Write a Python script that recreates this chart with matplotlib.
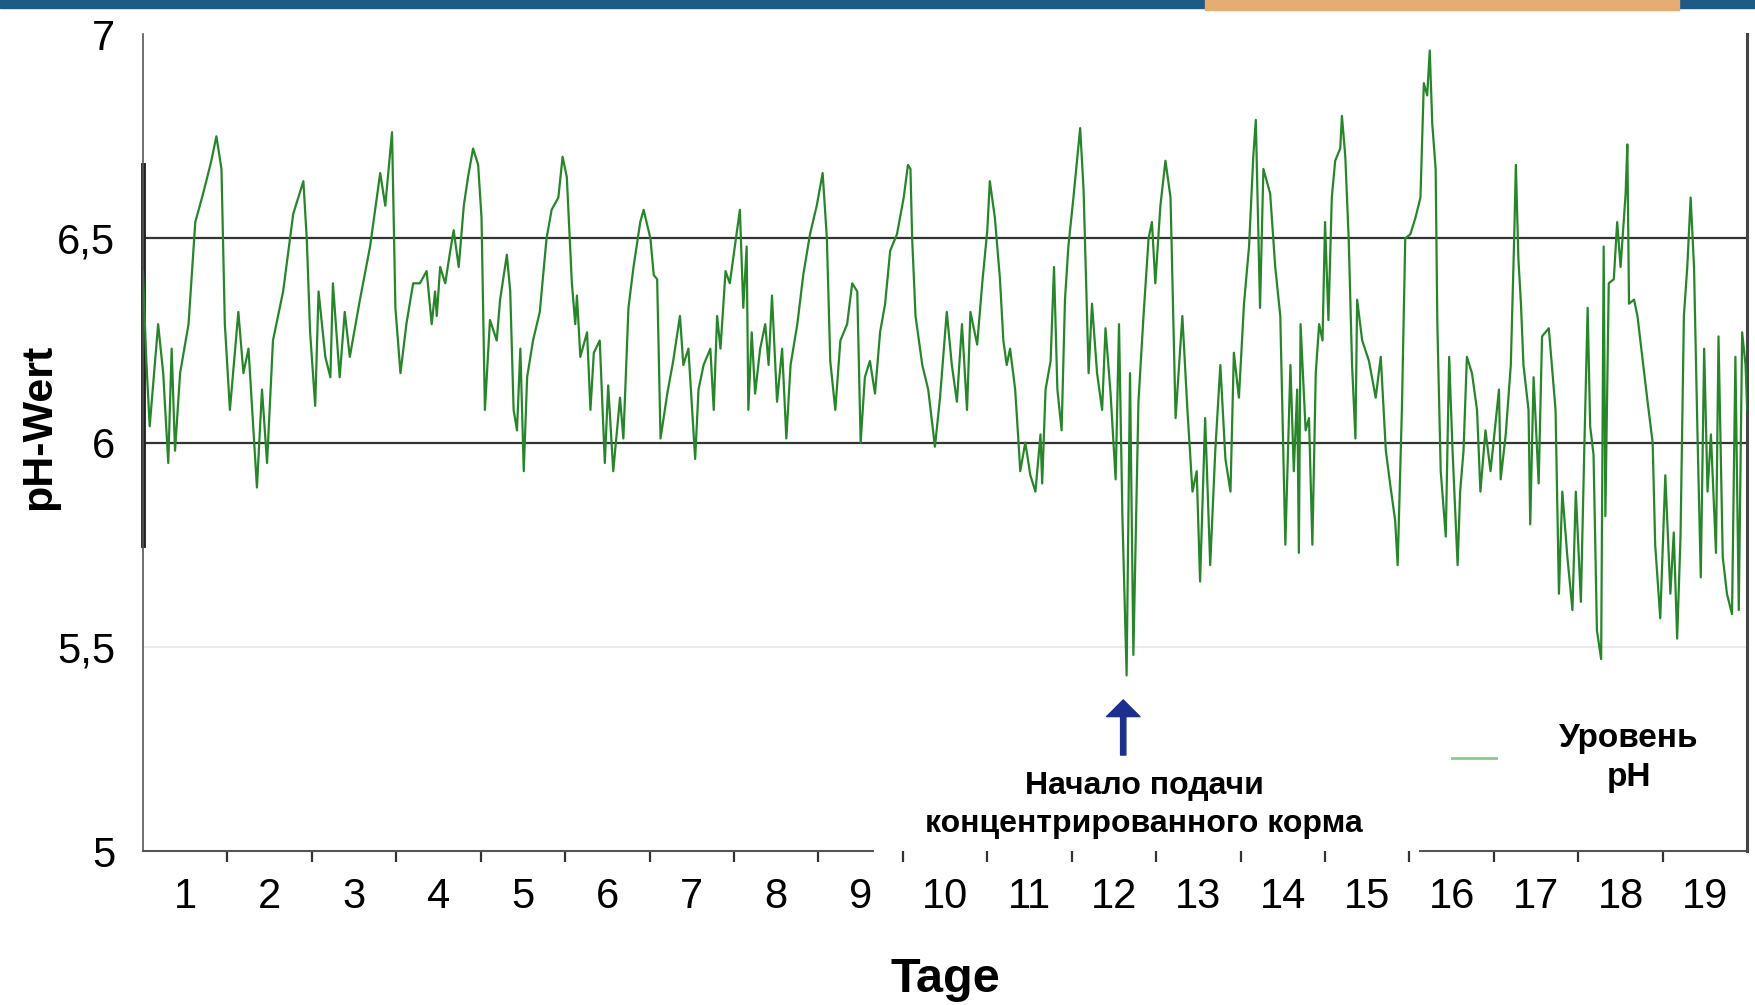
import matplotlib.pyplot as plt
from matplotlib.patches import Rectangle

plt.rcParams['font.family'] = ['Liberation Sans', 'DejaVu Sans']

# pH readings, x in days since start
days = [0.00, 0.04, 0.08, 0.18, 0.24, 0.30, 0.34, 0.38, 0.44, 0.54, 0.62, 0.70, 0.75, 0.81, 0.87, 0.93,
        0.97, 1.03, 1.13, 1.19, 1.25, 1.35, 1.41, 1.47, 1.54, 1.66, 1.78, 1.90, 1.94, 1.98, 2.04, 2.08,
        2.16, 2.22, 2.25, 2.33, 2.39, 2.45, 2.57, 2.69, 2.81, 2.87, 2.95, 2.99, 3.05, 3.12, 3.20,
        3.28, 3.36, 3.42, 3.46, 3.48, 3.52, 3.58, 3.64, 3.68, 3.74, 3.80, 3.85, 3.91, 3.97, 4.01, 4.05,
        4.11, 4.19, 4.23, 4.31, 4.35, 4.39, 4.43, 4.47, 4.51, 4.55, 4.62, 4.70, 4.78, 4.84, 4.92, 4.97,
        5.02, 5.08, 5.12, 5.14, 5.18, 5.26, 5.30, 5.34, 5.41, 5.47, 5.51, 5.57, 5.65, 5.69, 5.75, 5.81,
        5.89, 5.93, 6.01, 6.05, 6.09, 6.13, 6.21, 6.28, 6.36, 6.40, 6.46, 6.54, 6.58, 6.64,
        6.72, 6.76, 6.80, 6.84, 6.90, 6.95, 7.01, 7.07, 7.11, 7.15, 7.17, 7.21, 7.25, 7.31, 7.37, 7.41,
        7.45, 7.51, 7.57, 7.62, 7.67, 7.75, 7.82, 7.90, 7.98, 8.05, 8.10, 8.14, 8.20, 8.26, 8.34, 8.40,
        8.46, 8.50, 8.55, 8.61, 8.67, 8.73, 8.79, 8.85, 8.93, 9.01, 9.06, 9.09, 9.11, 9.15, 9.23, 9.30,
        9.38, 9.44, 9.52, 9.58, 9.64, 9.70, 9.76, 9.80, 9.88, 9.94, 10.00, 10.03, 10.09,
        10.15, 10.19, 10.23, 10.27, 10.33, 10.37, 10.39, 10.45, 10.51, 10.57, 10.63, 10.65, 10.69, 10.75,
        10.79, 10.83, 10.88, 10.92, 10.96, 11.02, 11.10, 11.14, 11.20, 11.24, 11.30, 11.36, 11.40, 11.46,
        11.52, 11.56, 11.60, 11.65, 11.69, 11.73, 11.79, 11.85, 11.91, 11.95, 11.99, 12.05, 12.11, 12.17,
        12.23, 12.31, 12.37, 12.43, 12.48, 12.52, 12.58, 12.64, 12.70, 12.76, 12.82, 12.88, 12.92, 12.98,
        13.04, 13.10, 13.15, 13.18, 13.23, 13.27, 13.35, 13.41, 13.47, 13.53,
        13.59, 13.63, 13.67, 13.69, 13.71, 13.77, 13.81, 13.85, 13.89, 13.93, 13.97, 14.00, 14.04, 14.08,
        14.12, 14.18, 14.20, 14.24, 14.28, 14.32, 14.36, 14.38, 14.44, 14.52, 14.60, 14.66, 14.72, 14.77,
        14.83, 14.86, 14.91, 14.95, 15.01, 15.07, 15.13, 15.17, 15.21, 15.24, 15.27, 15.31, 15.33, 15.37,
        15.43, 15.47, 15.51, 15.57, 15.60, 15.64, 15.68, 15.74, 15.80, 15.84, 15.90, 15.96, 16.02, 16.06,
        16.08, 16.14, 16.20, 16.24, 16.26, 16.29, 16.32, 16.35, 16.41, 16.43, 16.47, 16.53, 16.57, 16.65,
        16.71, 16.73, 16.77, 16.81, 16.87, 16.93, 16.97, 17.03, 17.07, 17.11, 17.14, 17.18, 17.22, 17.27,
        17.30, 17.32, 17.36, 17.42, 17.46, 17.50, 17.56, 17.58, 17.60, 17.66, 17.70, 17.78, 17.82, 17.88,
        17.91, 17.97, 18.03, 18.09, 18.13, 18.17, 18.21, 18.25, 18.29, 18.33, 18.37, 18.41, 18.45, 18.49,
        18.53, 18.57, 18.63, 18.66, 18.71, 18.76, 18.82, 18.86, 18.90, 18.94, 18.98, 19.00]
ph = [6.42, 6.20, 6.04, 6.29, 6.17, 5.95, 6.23, 5.98, 6.17, 6.29, 6.54, 6.60, 6.64, 6.69, 6.75, 6.67,
      6.29, 6.08, 6.32, 6.17, 6.23, 5.89, 6.13, 5.95, 6.25, 6.37, 6.56, 6.64, 6.50, 6.27, 6.09, 6.37,
      6.21, 6.16, 6.39, 6.16, 6.32, 6.21, 6.35, 6.48, 6.66, 6.58, 6.76, 6.33, 6.17, 6.29, 6.39,
      6.39, 6.42, 6.29, 6.37, 6.31, 6.43, 6.39, 6.47, 6.52, 6.43, 6.58, 6.65, 6.72, 6.68, 6.55, 6.08,
      6.30, 6.25, 6.35, 6.46, 6.37, 6.08, 6.03, 6.23, 5.93, 6.16, 6.25, 6.32, 6.50, 6.57, 6.60, 6.70,
      6.65, 6.39, 6.29, 6.36, 6.21, 6.27, 6.08, 6.22, 6.25, 5.95, 6.14, 5.93, 6.11, 6.01, 6.33, 6.43,
      6.54, 6.57, 6.50, 6.41, 6.40, 6.01, 6.12, 6.20, 6.31, 6.19, 6.23, 5.96, 6.13, 6.19,
      6.23, 6.08, 6.31, 6.23, 6.42, 6.39, 6.48, 6.57, 6.33, 6.48, 6.08, 6.27, 6.12, 6.23, 6.29, 6.19,
      6.36, 6.10, 6.23, 6.01, 6.19, 6.29, 6.41, 6.51, 6.58, 6.66, 6.50, 6.20, 6.08, 6.25, 6.29, 6.39,
      6.37, 6.00, 6.16, 6.20, 6.12, 6.27, 6.34, 6.47, 6.51, 6.60, 6.68, 6.67, 6.50, 6.31, 6.19, 6.13,
      5.99, 6.11, 6.32, 6.19, 6.10, 6.29, 6.08, 6.32, 6.24, 6.39, 6.52, 6.64, 6.55,
      6.40, 6.25, 6.19, 6.23, 6.13, 6.00, 5.93, 6.00, 5.92, 5.88, 6.02, 5.90, 6.13, 6.20,
      6.43, 6.13, 6.03, 6.35, 6.48, 6.60, 6.77, 6.62, 6.17, 6.34, 6.17, 6.08, 6.28, 6.12,
      5.91, 6.29, 5.82, 5.43, 6.17, 5.48, 6.10, 6.31, 6.50, 6.54, 6.39, 6.58, 6.69, 6.60,
      6.06, 6.31, 6.08, 5.88, 5.93, 5.66, 6.06, 5.70, 5.98, 6.19, 5.96, 5.88, 6.22, 6.11,
      6.34, 6.48, 6.70, 6.79, 6.33, 6.67, 6.61, 6.43, 6.31, 5.75,
      6.19, 5.93, 6.13, 5.73, 6.29, 6.03, 6.06, 5.75, 6.17, 6.29, 6.25, 6.54, 6.30, 6.60,
      6.69, 6.72, 6.80, 6.70, 6.50, 6.19, 6.01, 6.35, 6.25, 6.20, 6.11, 6.21, 5.98, 5.90,
      5.81, 5.70, 6.08, 6.50, 6.51, 6.55, 6.60, 6.88, 6.85, 6.96, 6.78, 6.67, 6.29, 5.93,
      5.77, 6.21, 5.98, 5.70, 5.88, 5.98, 6.21, 6.17, 6.08, 5.88, 6.03, 5.93, 6.05, 6.13,
      5.91, 6.02, 6.19, 6.50, 6.68, 6.45, 6.34, 6.19, 6.08, 5.80, 6.16, 5.90, 6.26, 6.28,
      6.13, 6.08, 5.63, 5.88, 5.72, 5.59, 5.88, 5.61, 5.98, 6.33, 6.04, 5.97, 5.54, 5.47,
      6.48, 5.82, 6.39, 6.40, 6.54, 6.43, 6.61, 6.73, 6.34, 6.35, 6.31, 6.17, 6.10, 6.00,
      5.75, 5.57, 5.92, 5.63, 5.78, 5.52, 5.77, 6.31, 6.43, 6.60, 6.43, 6.03, 5.67, 6.23,
      5.88, 6.02, 5.73, 6.26, 5.72, 5.63, 5.58, 6.21, 5.59, 6.27, 6.19, 6.08]

day_labels = [str(d) for d in range(1, 20)]
y_ticks = [5, 5.5, 6, 6.5, 7]
y_labels = ['5', '5,5', '6', '6,5', '7']

fig = plt.figure(figsize=(17.56, 10.05), dpi=100)
ax = fig.add_axes([0.0814, 0.1532, 0.9136, 0.8128])

# slide header strip
fig.patches.append(Rectangle((0, 0.992), 1, 0.008, transform=fig.transFigure, color='#1d5a86'))
fig.patches.append(Rectangle((0.686, 0.990), 0.27, 0.010, transform=fig.transFigure, color='#e6ad72'))

ax.axhline(6.5, color='#333333', lw=1.6, zorder=1)
ax.axhline(6.0, color='#333333', lw=1.6, zorder=1)
ax.axhline(5.5, color='#e6e6e6', lw=1.2, zorder=1)

ax.plot(days, ph, color='#27862a', lw=1.6, label='Уровень\npH', zorder=3)

ax.set_xlim(0, 19)
ax.set_ylim(5, 7)

ax.spines['top'].set_visible(False)
ax.spines['bottom'].set_visible(False)
ax.spines['left'].set_color('#555555')
ax.spines['left'].set_linewidth(1.2)
ax.spines['right'].set_color('#444444')
ax.spines['right'].set_linewidth(2.2)
ax.axvline(0, 0.375, 0.84, color='#222222', lw=3.5, clip_on=False)
# x axis line is interrupted behind the annotation
ax.axhline(5, 0, 0.455, color='#555555', lw=1.5, clip_on=False)
ax.axhline(5, 0.796, 1, color='#555555', lw=1.5, clip_on=False)

ax.set_xticks([d + 0.5 for d in range(19)])
ax.set_xticklabels(day_labels, fontsize=30)
ax.set_xticks(list(range(1, 19)), minor=True)
ax.tick_params(axis='x', which='major', length=0, pad=19)
ax.tick_params(axis='x', which='minor', length=8, width=1.6, color='#333333', direction='out')
ax.set_yticks(y_ticks)
ax.set_yticklabels(y_labels, fontsize=30)
ax.tick_params(axis='y', length=0, pad=20)

ax.set_xlabel('Tage', fontsize=35, fontweight='bold')
ax.xaxis.set_label_coords(0.5, -0.13)
ax.set_ylabel('pH-Wert', fontsize=31, fontweight='bold')
ax.yaxis.set_label_coords(-0.052, 0.519)

ax.annotate('', xy=(11.61, 5.37), xytext=(11.61, 5.235),
            arrowprops=dict(facecolor='#1c2f8c', edgecolor='#1c2f8c', width=3.8, headwidth=24,
                            headlength=12, shrink=0))
ax.text(11.86, 5.112, 'Начало подачи\nконцентрированного корма', ha='center', va='center',
        fontsize=23, fontweight='bold', linespacing=1.35)

leg = ax.legend(loc='center', bbox_to_anchor=(0.893, 0.114), frameon=False,
                handlelength=1.3, handletextpad=1.9,
                prop={'weight': 'bold', 'size': 24})
leg.get_lines()[0].set_color('#8cc98c')
leg.get_lines()[0].set_linewidth(2)
for t in leg.get_texts():
    t.set_multialignment('center')
    t.set_linespacing(1.35)

plt.savefig('out.png', dpi=100)
